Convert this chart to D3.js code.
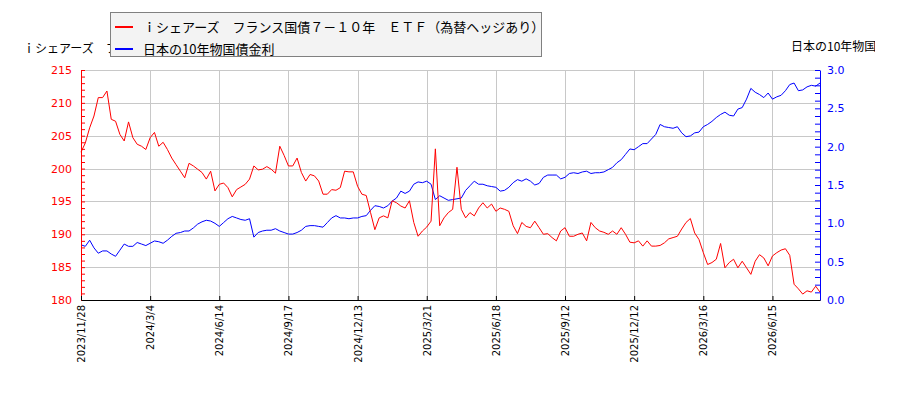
<!DOCTYPE html>
<html lang="ja">
<head>
<meta charset="UTF-8">
<title>ETF vs JGB 10Y</title>
<style>
    body { margin: 0; background: #fff; }
    svg { display: block; }
    .tick text { font-family: 'DejaVu Sans', sans-serif; }
    .jp { font-family: 'Noto Sans CJK JP', sans-serif; }
</style>
</head>
<body>
<svg id="chart" width="900" height="400"></svg>
<script src="https://cdnjs.cloudflare.com/ajax/libs/d3/7.8.5/d3.min.js"></script>
<script>
// tick labels, one every 16 samples
const tickLabels = ["2023/11/28", "2024/3/4", "2024/6/14", "2024/9/17", "2024/12/13", "2025/3/21",
    "2025/6/18", "2025/9/12", "2025/12/12", "2026/3/16", "2026/6/15"];
const tickStep = 16;

const etfName = "ｉシェアーズ　フランス国債７－１０年　ＥＴＦ（為替ヘッジあり）";
const jgbName = "日本の10年物国債金利";

// ETF price (left axis)
const etfPrice = [
    202.5, 203.9, 206.2, 208, 210.8, 210.8, 211.8, 207.5, 207.2, 205.2,
    204.2, 207.1, 204.7, 203.7, 203.4, 202.9, 204.7, 205.5, 203.4, 204,
    202.9, 201.6, 200.6, 199.6, 198.6, 200.8, 200.4, 199.9, 199.4, 198.4,
    199.6, 196.6, 197.6, 197.8, 197.1, 195.7, 196.8, 197.2, 197.6, 198.4,
    200.4, 199.8, 199.9, 200.3, 199.9, 199.3, 203.4, 202, 200.4, 200.4,
    201.6, 199.4, 198.1, 199.1, 198.9, 198.1, 196.1, 196.1, 196.8, 196.7,
    197.1, 199.6, 199.5, 199.5, 197.3, 196.1, 195.9, 193.3, 190.7, 192.5,
    192.8, 192.5, 195.1, 194.8, 194.3, 194, 195.1, 191.8, 189.7, 190.5,
    191.1, 192, 203, 191.3, 192.5, 193.3, 193.8, 200.2, 193.8, 192.5,
    193.3, 192.8, 194, 194.8, 194, 194.6, 193.5, 194, 193.8, 193.5,
    191.3, 190.1, 191.8, 191.2, 191, 192, 191, 190, 190.1, 189.5,
    189, 190.5, 191, 189.7, 189.7, 190, 190.2, 189, 191.8, 191,
    190.5, 190.3, 190, 190.5, 190, 191, 190, 188.8, 188.7, 189,
    188.2, 189, 188.2, 188.2, 188.3, 188.7, 189.3, 189.5, 189.7, 190.8,
    191.8, 192.4, 190.2, 189.2, 187.2, 185.4, 185.7, 186.2, 188.6, 184.9,
    185.7, 186.2, 184.9, 185.9, 184.9, 183.9, 185.9, 186.9, 186.4, 185.2,
    186.7, 187.2, 187.6, 187.8, 186.8, 182.4, 181.7, 180.9, 181.4, 181.2,
    182.1, 181.2
];

// JGB 10Y yield (right axis)
const jgbYield = [
    0.72, 0.70, 0.78, 0.68, 0.61, 0.64, 0.64, 0.60, 0.57, 0.65,
    0.73, 0.70, 0.70, 0.75, 0.73, 0.71, 0.74, 0.77, 0.76, 0.74,
    0.78, 0.83, 0.87, 0.88, 0.90, 0.90, 0.94, 0.99, 1.02, 1.04,
    1.03, 1.00, 0.96, 1.01, 1.06, 1.09, 1.07, 1.05, 1.04, 1.06,
    0.82, 0.88, 0.90, 0.91, 0.91, 0.93, 0.90, 0.88, 0.86, 0.86,
    0.88, 0.91, 0.96, 0.97, 0.97, 0.96, 0.95, 1.01, 1.07, 1.10,
    1.07, 1.07, 1.06, 1.07, 1.07, 1.09, 1.10, 1.17, 1.23, 1.22,
    1.20, 1.23, 1.29, 1.33, 1.42, 1.39, 1.42, 1.51, 1.54, 1.53,
    1.55, 1.51, 1.31, 1.36, 1.33, 1.30, 1.31, 1.32, 1.33, 1.43,
    1.49, 1.55, 1.51, 1.51, 1.49, 1.48, 1.47, 1.42, 1.43, 1.47,
    1.53, 1.57, 1.55, 1.58, 1.55, 1.50, 1.52, 1.60, 1.63, 1.63,
    1.63, 1.58, 1.60, 1.65, 1.66, 1.65, 1.67, 1.68, 1.65, 1.66,
    1.66, 1.67, 1.70, 1.73, 1.79, 1.83, 1.90, 1.97, 1.96, 2.00,
    2.04, 2.04, 2.10, 2.16, 2.29, 2.26, 2.25, 2.24, 2.26, 2.18,
    2.13, 2.14, 2.18, 2.19, 2.26, 2.29, 2.33, 2.38, 2.42, 2.45,
    2.41, 2.40, 2.49, 2.51, 2.62, 2.76, 2.71, 2.68, 2.64, 2.70,
    2.62, 2.65, 2.67, 2.73, 2.81, 2.83, 2.73, 2.74, 2.78, 2.80,
    2.79, 2.83
];

const plotLeft = 81, plotRight = 820, plotTop = 70, plotBottom = 300;

const svg = d3.select("#chart");

const x = d3.scaleLinear().domain([0, etfPrice.length - 1]).range([plotLeft, plotRight]);
const yL = d3.scaleLinear().domain([180, 215]).range([plotBottom, plotTop]);
const yR = d3.scaleLinear().domain([0, 3]).range([plotBottom, plotTop]);

const xTicks = tickLabels.map((d, i) => i * tickStep);

// grid
const grid = svg.append("g").attr("stroke", "#c8c8c8").attr("stroke-width", 1);
grid.selectAll(".gx").data(xTicks).enter().append("line")
    .attr("x1", d => Math.round(x(d)) + 0.5).attr("x2", d => Math.round(x(d)) + 0.5)
    .attr("y1", plotTop).attr("y2", plotBottom);
grid.selectAll(".gy").data(d3.range(180, 216, 5)).enter().append("line")
    .attr("x1", plotLeft).attr("x2", plotRight)
    .attr("y1", d => Math.round(yL(d)) + 0.5).attr("y2", d => Math.round(yL(d)) + 0.5);

// lines
const etfLine = d3.line().x((d, i) => x(i)).y(d => yL(d));
const jgbLine = d3.line().x((d, i) => x(i)).y(d => yR(d));

svg.append("path").datum(jgbYield)
    .attr("fill", "none").attr("stroke", "#0000ff").attr("stroke-width", 1)
    .attr("d", jgbLine);
svg.append("path").datum(etfPrice)
    .attr("fill", "none").attr("stroke", "#ff0000").attr("stroke-width", 1)
    .attr("d", etfLine);

// left axis
const axL = svg.append("g").attr("transform", `translate(${plotLeft},0)`)
    .call(d3.axisLeft(yL).tickValues(d3.range(180, 216, 1))
        .tickSize(-4).tickSizeOuter(0).tickPadding(9)
        .tickFormat(d => d % 5 === 0 ? d : ""));
axL.selectAll("path, line").attr("stroke", "#ff0000");
axL.selectAll("text").attr("fill", "#ff0000").style("font-size", "11px");

// right axis
const axR = svg.append("g").attr("transform", `translate(${plotRight},0)`)
    .call(d3.axisRight(yR).tickValues(d3.range(0, 31, 1).map(d => d / 10))
        .tickSize(-5).tickSizeOuter(0).tickPadding(7)
        .tickFormat(d => Math.round(d * 10) % 5 === 0 ? d3.format(".1f")(d) : ""));
axR.selectAll("path, line").attr("stroke", "#0000ff");
axR.selectAll("text").attr("fill", "#0000ff").style("font-size", "11px");

// bottom axis
const axB = svg.append("g").attr("transform", `translate(0,${plotBottom})`)
    .call(d3.axisBottom(x).tickValues(xTicks)
        .tickSize(-4).tickSizeOuter(0)
        .tickFormat((d, i) => tickLabels[i]));
axB.selectAll("path, line").attr("stroke", "#000");
axB.selectAll("text")
    .attr("transform", "rotate(-90)")
    .attr("text-anchor", "end")
    .attr("x", -5).attr("y", 0).attr("dy", "0.35em")
    .attr("fill", "#000").style("font-size", "10px");

// axis titles
svg.append("text").attr("class", "jp")
    .attr("x", 23).attr("y", 53).style("font-size", "12px").attr("fill", "#000")
    .text(etfName);

svg.append("clipPath").attr("id", "rclip")
    .append("rect").attr("x", 780).attr("y", 30).attr("width", 95).attr("height", 30);
svg.append("text").attr("class", "jp").attr("clip-path", "url(#rclip)")
    .attr("x", 791).attr("y", 51).style("font-size", "12px").attr("fill", "#000")
    .text(jgbName);

// legend
const lg = svg.append("g");
lg.append("rect").attr("x", 110.5).attr("y", 12.5).attr("width", 431).attr("height", 44)
    .attr("fill", "#f3f3f3").attr("stroke", "#808080");
const items = [{ name: etfName, color: "#ff0000" }, { name: jgbName, color: "#0000ff" }];
items.forEach((it, i) => {
    const cy = 27 + i * 22;
    lg.append("line").attr("x1", 115).attr("x2", 133).attr("y1", cy).attr("y2", cy)
        .attr("stroke", it.color).attr("stroke-width", 2);
    lg.append("text").attr("class", "jp")
        .attr("x", 143).attr("y", cy + 5).style("font-size", "13px").attr("fill", "#000")
        .text(it.name);
});
</script>
</body>
</html>
